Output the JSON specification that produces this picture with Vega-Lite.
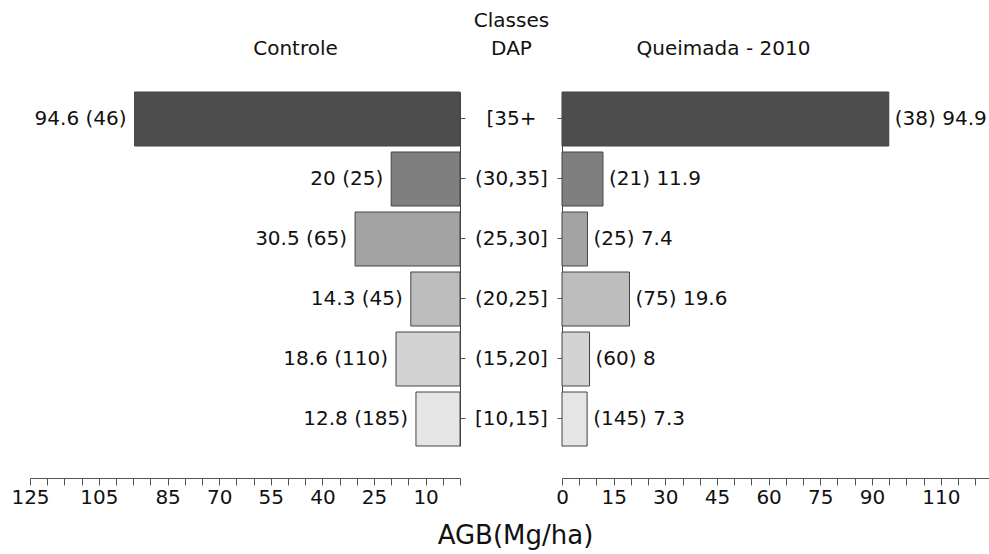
{
  "$schema": "https://vega.github.io/schema/vega-lite/v6.json",
  "background": "white",
  "padding": {"left": 10, "top": 10, "right": 0, "bottom": 3},
  "bounds": "flush",
  "spacing": 102,
  "config": {
    "view": {"stroke": null},
    "font": "DejaVu Sans",
    "axis": {"labelFont": "DejaVu Sans", "titleFont": "DejaVu Sans", "labelFontSize": 20, "labelColor": "#111", "titleColor": "#111", "domainColor": "#555", "tickColor": "#555", "grid": false, "labelFlush": false}
  },
  "data": {"values": [
    {"classe": "[35+", "grupo": "Controle", "agb": 94.6, "n": 46},
    {"classe": "(30,35]", "grupo": "Controle", "agb": 20, "n": 25},
    {"classe": "(25,30]", "grupo": "Controle", "agb": 30.5, "n": 65},
    {"classe": "(20,25]", "grupo": "Controle", "agb": 14.3, "n": 45},
    {"classe": "(15,20]", "grupo": "Controle", "agb": 18.6, "n": 110},
    {"classe": "[10,15]", "grupo": "Controle", "agb": 12.8, "n": 185},
    {"classe": "[35+", "grupo": "Queimada", "agb": 94.9, "n": 38},
    {"classe": "(30,35]", "grupo": "Queimada", "agb": 11.9, "n": 21},
    {"classe": "(25,30]", "grupo": "Queimada", "agb": 7.4, "n": 25},
    {"classe": "(20,25]", "grupo": "Queimada", "agb": 19.6, "n": 75},
    {"classe": "(15,20]", "grupo": "Queimada", "agb": 8, "n": 60},
    {"classe": "[10,15]", "grupo": "Queimada", "agb": 7.3, "n": 145}
  ]},
  "hconcat": [
    {
      "width": 430,
      "height": 354,
      "transform": [
        {"filter": "datum.grupo === 'Controle'"},
        {"calculate": "datum.agb + ' (' + datum.n + ')'", "as": "rotulo"}
      ],
      "encoding": {
        "y": {"field": "classe", "type": "nominal",
          "sort": ["[35+", "(30,35]", "(25,30]", "(20,25]", "(15,20]", "[10,15]"],
          "scale": {"paddingInner": 0.1, "paddingOuter": 0},
          "axis": {"orient": "right", "tickSize": 5, "labelPadding": 46, "labelAlign": "center", "domainColor": "#444",
            "title": ["Classes", "DAP"], "titleAngle": 0, "titleX": 51, "titleY": -82, "titleAlign": "center", "titleBaseline": "top", "titleLineHeight": 28, "titleFontSize": 20, "titleFontWeight": "normal"}},
        "x": {"field": "agb", "type": "quantitative",
          "scale": {"domain": [0, 125], "reverse": true, "nice": false},
          "axis": {"values": [0,5,10,15,20,25,30,35,40,45,50,55,60,65,70,75,80,85,90,95,100,105,110,115,120,125],
            "labelExpr": "indexof([125,105,85,70,55,40,25,10], datum.value) >= 0 ? datum.label : ''",
            "labelOverlap": false, "offset": 32, "tickSize": 7, "labelPadding": 2,
            "title": "Controle", "titleX": 265, "titleY": -430, "titleFontSize": 20, "titleFontWeight": "normal", "titleBaseline": "middle", "titleAlign": "center"}}
      },
      "layer": [
        {"mark": {"type": "bar", "stroke": "#444", "strokeWidth": 1},
         "encoding": {"color": {"field": "classe", "type": "nominal", "legend": null,
           "scale": {"domain": ["[35+", "(30,35]", "(25,30]", "(20,25]", "(15,20]", "[10,15]"], "range": ["#4d4d4d", "#7f7f7f", "#a3a3a3", "#bdbdbd", "#d3d3d3", "#e5e5e5"]}}}},
        {"mark": {"type": "text", "align": "right", "dx": -8, "fontSize": 20, "color": "#111", "font": "DejaVu Sans"},
         "encoding": {"text": {"field": "rotulo"}}}
      ]
    },
    {
      "width": 427,
      "height": 354,
      "transform": [
        {"filter": "datum.grupo === 'Queimada'"},
        {"calculate": "'(' + datum.n + ') ' + datum.agb", "as": "rotulo"}
      ],
      "encoding": {
        "y": {"field": "classe", "type": "nominal",
          "sort": ["[35+", "(30,35]", "(25,30]", "(20,25]", "(15,20]", "[10,15]"],
          "scale": {"paddingInner": 0.1, "paddingOuter": 0},
          "axis": {"orient": "left", "tickSize": 5, "labels": false, "domainColor": "#444",
            "title": "Queimada - 2010", "titleAngle": 0, "titleX": 161, "titleY": -44, "titleAlign": "center", "titleBaseline": "middle", "titleFontSize": 20, "titleFontWeight": "normal"}},
        "x": {"field": "agb", "type": "quantitative",
          "scale": {"domain": [0, 124], "nice": false},
          "axis": {"values": [0,5,10,15,20,25,30,35,40,45,50,55,60,65,70,75,80,85,90,95,100,105,110,115,120],
            "labelExpr": "indexof([0,15,30,45,60,75,90,110], datum.value) >= 0 ? datum.label : ''",
            "labelOverlap": false, "offset": 32, "tickSize": 7, "labelPadding": 2,
            "title": "AGB(Mg/ha)", "titleX": -47, "titleY": 65, "titleFontSize": 26, "titleFontWeight": "normal", "titleBaseline": "alphabetic", "titleAlign": "center"}}
      },
      "layer": [
        {"mark": {"type": "bar", "stroke": "#444", "strokeWidth": 1},
         "encoding": {"color": {"field": "classe", "type": "nominal", "legend": null,
           "scale": {"domain": ["[35+", "(30,35]", "(25,30]", "(20,25]", "(15,20]", "[10,15]"], "range": ["#4d4d4d", "#7f7f7f", "#a3a3a3", "#bdbdbd", "#d3d3d3", "#e5e5e5"]}}}},
        {"mark": {"type": "text", "align": "left", "dx": 6, "fontSize": 20, "color": "#111", "font": "DejaVu Sans"},
         "encoding": {"text": {"field": "rotulo"}}}
      ]
    }
  ]
}
